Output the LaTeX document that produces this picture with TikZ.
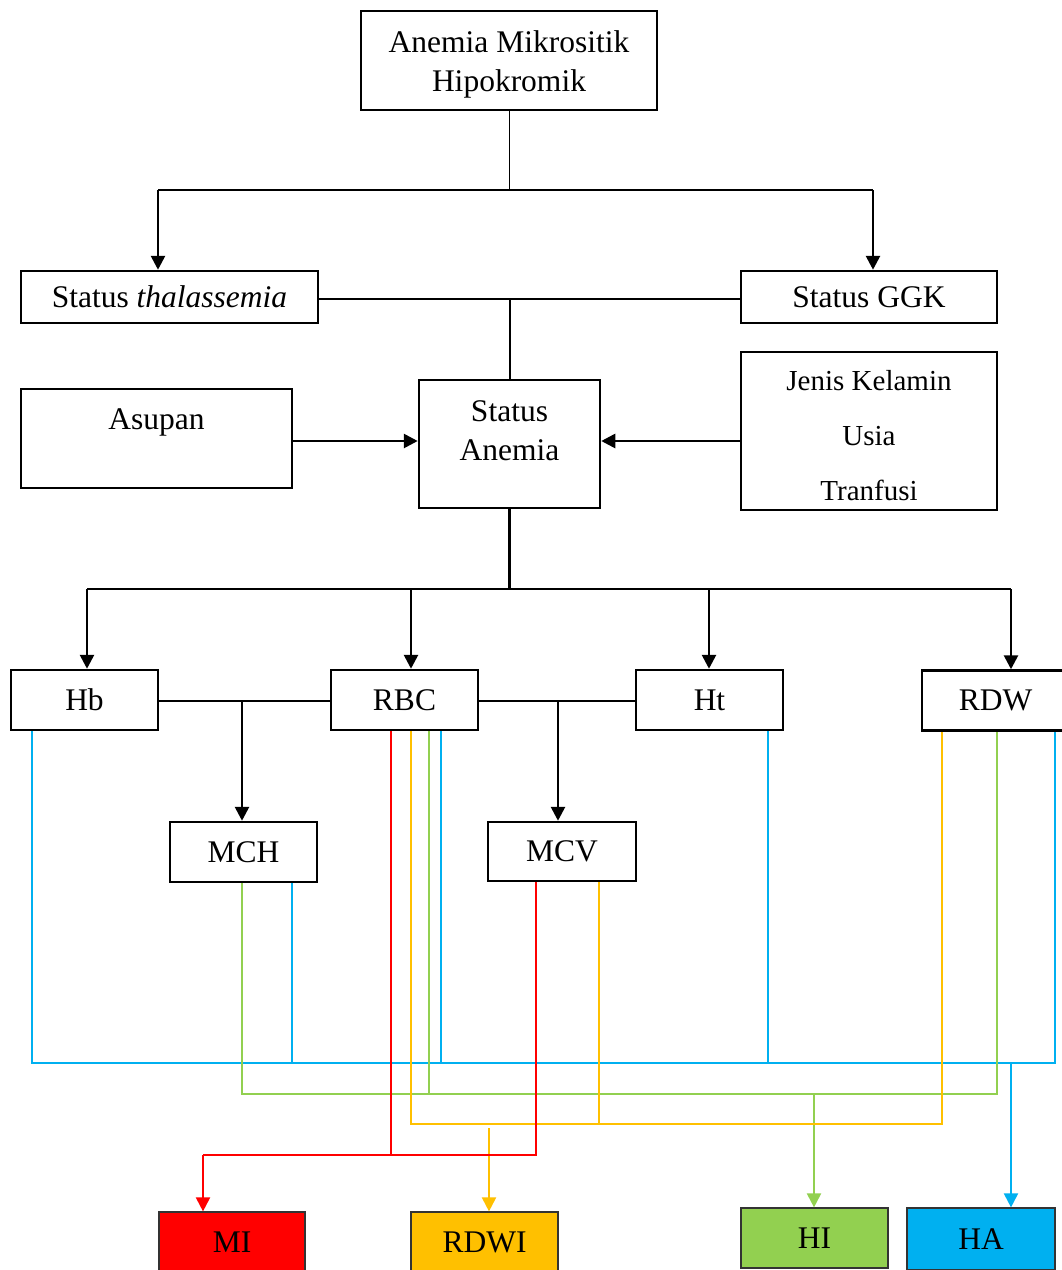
\documentclass[tikz,border=0pt]{standalone}
\usepackage{fontspec}
\setmainfont{Liberation Serif}
\usetikzlibrary{arrows.meta}
\definecolor{cRed}{HTML}{FF0000}
\definecolor{cYel}{HTML}{FFC000}
\definecolor{cGrn}{HTML}{92D050}
\definecolor{cBlu}{HTML}{00B0F0}
\begin{document}
\begin{tikzpicture}[x=1pt,y=-1pt,
  bigfont/.style={font=\fontsize{31.5}{39}\selectfont},
  jfont/.style={font=\fontsize{29}{38}\selectfont},
  box/.style={draw, line width=2.5pt, inner sep=0pt, align=center, bigfont},
  outbox/.style={draw=black!80, line width=1.2pt, inner sep=0pt, align=center, bigfont, minimum width=147pt, minimum height=60pt},
  conn/.style={line width=2.7pt},
  arr/.style={conn, -{Triangle[length=14pt,width=14pt]}},
  cline/.style={line width=2pt},
  carr/.style={cline, -{Triangle[length=14pt,width=14pt]}}]
\clip (0,0) rectangle (1062,1270);
\fill[white] (0,0) rectangle (1062,1270);

% upper part
\node[box, minimum width=296pt, minimum height=99pt,
      label={[bigfont, align=center, yshift=-3.5pt]center:Anemia Mikrositik\\Hipokromik}] (top) at (509,60.5) {};
\node[box, minimum width=297pt, minimum height=52pt] (thal) at (169.5,297) {\raisebox{-2pt}{Status \textit{thalassemia}}};
\node[box, minimum width=256pt, minimum height=52pt] (ggk) at (869,297) {\raisebox{-2pt}{Status GGK}};
\node[box, minimum width=271pt, minimum height=99pt,
      label={[bigfont, yshift=16pt]center:Asupan}] (asupan) at (156.5,438.5) {};
\node[box, minimum width=181pt, minimum height=128pt,
      label={[bigfont, align=center, yshift=13pt]center:Status\\Anemia}] (anemia) at (509.5,444) {};
\node[box, minimum width=256pt, minimum height=158pt,
      label={[jfont, align=center, yshift=-5pt]center:Jenis Kelamin\\[17pt]Usia\\[17pt]Tranfusi}] (jenis) at (869,431) {};

% parameter boxes
\node[box, minimum width=147pt, minimum height=60pt] (hb) at (84.5,700) {Hb};
\node[box, minimum width=147pt, minimum height=60pt] (rbc) at (404.5,700) {RBC};
\node[box, minimum width=147pt, minimum height=60pt] (ht) at (709.5,700) {Ht};
\node[box, minimum width=147pt, minimum height=60pt] (rdw) at (995.5,700.5) {RDW};
\node[box, minimum width=147pt, minimum height=60pt] (mch) at (243.5,852) {MCH};
\node[box, minimum width=148pt, minimum height=59pt] (mcv) at (562,851.5) {MCV};

% output boxes
\node[outbox, fill=cRed, minimum width=146pt] (mi) at (232,1242) {MI};
\node[outbox, fill=cYel] (rdwi) at (484.5,1242) {RDWI};
\node[outbox, fill=cGrn] (hi) at (814.5,1238) {HI};
\node[outbox, fill=cBlu, minimum width=148pt, minimum height=62pt] (ha) at (981,1239) {HA};

% top connectors
\coordinate (t1) at (158,190);
\coordinate (t2) at (873,190);
\coordinate (j1) at (top.south |- t1);
\draw[line width=1pt] (top.south) -- (j1);
\draw[conn] (t1) -- (t2);
\draw[arr] (t1) -- (t1 |- thal.north);
\draw[arr] (t2) -- (t2 |- ggk.north);
\coordinate (h1) at (0,299);
\draw[conn] (thal.east |- h1) -- (ggk.west |- h1);
\draw[line width=2pt] (anemia.north) -- (anemia.north |- h1);
\coordinate (a1) at (0,441);
\draw[arr] (asupan.east |- a1) -- (anemia.west |- a1);
\draw[arr] (jenis.west |- a1) -- (anemia.east |- a1);

% status anemia to parameters
\coordinate (d1) at (87,589);
\coordinate (d2) at (411,589);
\coordinate (d3) at (709,589);
\coordinate (d4) at (1011,589);
\coordinate (j2) at (anemia.south |- d1);
\draw[conn] (anemia.south) -- (j2);
\draw[conn] (d1) -- (d4);
\draw[arr] (d1) -- (d1 |- hb.north);
\draw[arr] (d2) -- (d2 |- rbc.north);
\draw[arr] (d3) -- (d3 |- ht.north);
\draw[arr] (d4) -- (d4 |- rdw.north);

\coordinate (m1) at (242,701);
\coordinate (m2) at (558,701);
\draw[conn] (hb.east |- m1) -- (rbc.west |- m1);
\draw[conn] (rbc.east |- m1) -- (ht.west |- m1);
\draw[arr] (m1) -- (m1 |- mch.north);
\draw[arr] (m2) -- (m2 |- mcv.north);

% blue (HA)
\coordinate (pB1) at (32,1063);
\coordinate (pB2) at (292,1063);
\coordinate (pB3) at (441,1063);
\coordinate (pB4) at (768,1063);
\coordinate (pB5) at (1055,1063);
\coordinate (pBo) at (1011,1063);
\draw[cline, cBlu] (hb.south -| pB1) -- (pB1) -- (pB5) -- (rdw.south -| pB5);
\draw[cline, cBlu] (mch.south -| pB2) -- (pB2);
\draw[cline, cBlu] (rbc.south -| pB3) -- (pB3);
\draw[cline, cBlu] (ht.south -| pB4) -- (pB4);
\draw[carr, cBlu] (pBo) -- (ha.north -| pBo);

% green (HI)
\coordinate (pG1) at (242,1094);
\coordinate (pG2) at (429,1094);
\coordinate (pG3) at (997,1094);
\coordinate (pGo) at (814,1094);
\draw[cline, cGrn] (mch.south -| pG1) -- (pG1) -- (pG3) -- (rdw.south -| pG3);
\draw[cline, cGrn] (rbc.south -| pG2) -- (pG2);
\draw[carr, cGrn] (pGo) -- (hi.north -| pGo);

% yellow (RDWI)
\coordinate (pY1) at (411,1124);
\coordinate (pY2) at (599,1124);
\coordinate (pY3) at (942,1124);
\coordinate (pYo) at (489,1128);
\draw[cline, cYel] (rbc.south -| pY1) -- (pY1) -- (pY3) -- (rdw.south -| pY3);
\draw[cline, cYel] (mcv.south -| pY2) -- (pY2);
\draw[carr, cYel] (pYo) -- (rdwi.north -| pYo);

% red (MI)
\coordinate (pR0) at (203,1155);
\coordinate (pR1) at (391,1155);
\coordinate (pR2) at (536,1155);
\draw[cline, cRed] (rbc.south -| pR1) -- (pR1);
\draw[cline, cRed] (mcv.south -| pR2) -- (pR2) -- (pR0);
\draw[carr, cRed] (pR0) -- (mi.north -| pR0);
\end{tikzpicture}
\end{document}
